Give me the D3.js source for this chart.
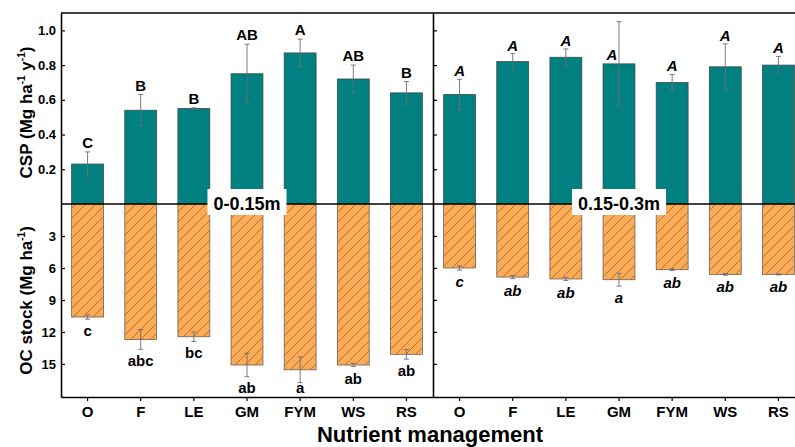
<!DOCTYPE html>
<html>
<head>
<meta charset="utf-8">
<script src="https://cdn.jsdelivr.net/npm/d3@7"></script>
<style>
  body { margin: 0; background: #fff; }
  text { font-family: 'Liberation Sans', Arial, sans-serif; font-weight: bold; fill: #000; }
</style>
</head>
<body>
<svg id="chart" width="795" height="447"></svg>
<script>
const categories = ['O', 'F', 'LE', 'GM', 'FYM', 'WS', 'RS'];
const depths = ['0-0.15m', '0.15-0.3m'];

// carbon sequestration potential, Mg ha-1 y-1
const cspShallow = [0.23, 0.54, 0.55, 0.75, 0.87, 0.72, 0.64];
const cspShallowErr = [0.07, 0.09, 0.004, 0.17, 0.08, 0.08, 0.065];
const cspDeep = [0.63, 0.82, 0.845, 0.807, 0.70, 0.79, 0.80];
const cspDeepErr = [0.088, 0.046, 0.048, 0.243, 0.046, 0.132, 0.05];
const cspShallowLetters = ['C', 'B', 'B', 'AB', 'A', 'AB', 'B'];
const cspDeepLetters = ['A', 'A', 'A', 'A', 'A', 'A', 'A'];

// organic carbon stock, Mg ha-1
const ocShallow = [10.6, 12.7, 12.45, 15.1, 15.55, 15.1, 14.1];
const ocShallowErr = [0.2, 0.93, 0.44, 1.1, 1.2, 0.15, 0.45];
const ocDeep = [6.0, 6.85, 7.03, 7.1, 6.16, 6.6, 6.6];
const ocDeepErr = [0.2, 0.15, 0.15, 0.6, 0.08, 0.08, 0.05];
const ocShallowLetters = ['c', 'abc', 'bc', 'ab', 'a', 'ab', 'ab'];
const ocDeepLetters = ['c', 'ab', 'ab', 'a', 'ab', 'ab', 'ab'];

const cspTicks = [0.2, 0.4, 0.6, 0.8, 1.0];
const ocTicks = [3, 6, 9, 12, 15];

const panels = [
  { depth: depths[0], csp: cspShallow, cspErr: cspShallowErr, cspLetters: cspShallowLetters,
    oc: ocShallow, ocErr: ocShallowErr, ocLetters: ocShallowLetters, italic: false },
  { depth: depths[1], csp: cspDeep, cspErr: cspDeepErr, cspLetters: cspDeepLetters,
    oc: ocDeep, ocErr: ocDeepErr, ocLetters: ocDeepLetters, italic: true },
];

const plotLeft = 61;
const panelWidth = 372;
const plotTop = 13;
const zeroY = 204;
const plotBottom = 397;
const teal = '#008080';
const orange = '#FDAA55';

const svg = d3.select('#chart');

const yCsp = d3.scaleLinear().domain([0, 1.1]).range([zeroY, plotTop]);
const yOc = d3.scaleLinear().domain([0, 18.1]).range([zeroY, plotBottom]);

// hatch for the OC stock bars
const pattern = svg.append('defs')
  .append('pattern')
  .attr('id', 'hatch')
  .attr('patternUnits', 'userSpaceOnUse')
  .attr('width', 10)
  .attr('height', 10);
pattern.append('rect')
  .attr('width', 10)
  .attr('height', 10)
  .attr('fill', orange);
pattern.append('path')
  .attr('d', 'M-1,1 l2,-2 M0,10 l10,-10 M9,11 l2,-2')
  .attr('stroke', '#6b5434')
  .attr('stroke-width', 0.6);

function errorBar(g, x, y1, y2) {
  g.append('line')
    .attr('x1', x).attr('x2', x)
    .attr('y1', y1).attr('y2', y2);
  g.append('line')
    .attr('x1', x - 2.5).attr('x2', x + 2.5)
    .attr('y1', y1).attr('y2', y1);
  g.append('line')
    .attr('x1', x - 2.5).attr('x2', x + 2.5)
    .attr('y1', y2).attr('y2', y2);
}

panels.forEach((p, pi) => {
  const x0 = plotLeft + pi * panelWidth;
  const x = d3.scaleBand()
    .domain(categories)
    .range([x0, x0 + panelWidth])
    .paddingInner(0.4)
    .paddingOuter(0.2);
  const g = svg.append('g');

  g.selectAll('.csp')
    .data(categories)
    .enter()
    .append('rect')
    .attr('class', 'csp')
    .attr('x', d => x(d))
    .attr('y', (d, i) => yCsp(p.csp[i]))
    .attr('width', x.bandwidth())
    .attr('height', (d, i) => zeroY - yCsp(p.csp[i]))
    .attr('fill', teal)
    .attr('stroke', '#3d4a4a')
    .attr('stroke-width', 0.8);

  g.selectAll('.oc')
    .data(categories)
    .enter()
    .append('rect')
    .attr('class', 'oc')
    .attr('x', d => x(d))
    .attr('y', zeroY)
    .attr('width', x.bandwidth())
    .attr('height', (d, i) => yOc(p.oc[i]) - zeroY)
    .attr('fill', 'url(#hatch)')
    .attr('stroke', '#6b6055')
    .attr('stroke-width', 0.8);

  const eb = g.append('g')
    .attr('stroke', '#6e6e6e')
    .attr('stroke-width', 0.9);
  categories.forEach((c, i) => {
    const cx = x(c) + x.bandwidth() / 2;
    errorBar(eb, cx, yCsp(p.csp[i] - p.cspErr[i]), yCsp(p.csp[i] + p.cspErr[i]));
    errorBar(eb, cx, yOc(p.oc[i] - p.ocErr[i]), yOc(p.oc[i] + p.ocErr[i]));
  });

  // significance letters
  g.selectAll('.cspLetter')
    .data(categories)
    .enter()
    .append('text')
    .attr('class', 'cspLetter')
    .attr('text-anchor', 'middle')
    .style('font-size', '15px')
    .style('font-style', p.italic ? 'italic' : 'normal')
    .attr('x', (d, i) => {
      const cx = x(d) + x.bandwidth() / 2;
      return yCsp(p.csp[i] + p.cspErr[i]) - 15 < plotTop ? cx - 7 : cx;
    })
    .attr('y', (d, i) => {
      const yTop = yCsp(p.csp[i] + p.cspErr[i]) - (p.italic ? 3 : 4);
      if (yTop - 11 < plotTop) return yCsp(p.csp[i]) - 4;
      return yTop;
    })
    .text((d, i) => p.cspLetters[i]);

  g.selectAll('.ocLetter')
    .data(categories)
    .enter()
    .append('text')
    .attr('class', 'ocLetter')
    .attr('text-anchor', 'middle')
    .style('font-size', '15px')
    .style('font-style', p.italic ? 'italic' : 'normal')
    .attr('x', d => x(d) + x.bandwidth() / 2)
    .attr('y', (d, i) => Math.min(yOc(p.oc[i] + p.ocErr[i]) + 17, plotBottom - 4))
    .text((d, i) => p.ocLetters[i]);

  // axes
  const bottomAxis = g.append('g')
    .attr('transform', `translate(0,${plotBottom})`)
    .call(d3.axisBottom(x).tickSizeInner(4).tickSizeOuter(0).tickPadding(5));
  bottomAxis.selectAll('text').style('font-size', '15px');

  let cspAxis;
  let ocAxis;
  if (pi === 0) {
    cspAxis = d3.axisLeft(yCsp).tickValues(cspTicks).tickSizeInner(-4).tickSizeOuter(0)
      .tickPadding(5).tickFormat(d3.format('.1f'));
    ocAxis = d3.axisLeft(yOc).tickValues(ocTicks).tickSizeInner(-4).tickSizeOuter(0)
      .tickPadding(5);
  } else {
    cspAxis = d3.axisRight(yCsp).tickValues(cspTicks).tickSizeInner(4).tickSizeOuter(0)
      .tickFormat('');
    ocAxis = d3.axisRight(yOc).tickValues(ocTicks).tickSizeInner(4).tickSizeOuter(0)
      .tickFormat('');
  }
  g.append('g')
    .attr('transform', `translate(${x0},0)`)
    .call(cspAxis)
    .selectAll('text').style('font-size', '13px');
  g.append('g')
    .attr('transform', `translate(${x0},0)`)
    .call(ocAxis)
    .selectAll('text').style('font-size', '13px');

  g.selectAll('.domain, .tick line')
    .attr('stroke', '#000')
    .attr('stroke-width', 1.6);
  g.selectAll('.tick line').attr('stroke-width', 1.2);
});

// frame top and zero line
svg.append('line')
  .attr('x1', plotLeft).attr('x2', plotLeft + 2 * panelWidth)
  .attr('y1', plotTop).attr('y2', plotTop)
  .attr('stroke', '#000')
  .attr('stroke-width', 1.6);
svg.append('line')
  .attr('x1', plotLeft).attr('x2', plotLeft + 2 * panelWidth)
  .attr('y1', zeroY).attr('y2', zeroY)
  .attr('stroke', '#000')
  .attr('stroke-width', 1.6);

// depth labels in white boxes
panels.forEach((p, pi) => {
  const cx = plotLeft + pi * panelWidth + panelWidth / 2;
  const label = svg.append('g');
  const t = label.append('text')
    .attr('x', cx)
    .attr('y', zeroY + 6)
    .attr('text-anchor', 'middle')
    .style('font-size', '18px')
    .text(p.depth);
  const w = t.node().getComputedTextLength();
  label.insert('rect', 'text')
    .attr('x', cx - w / 2 - 6)
    .attr('y', zeroY - 15)
    .attr('width', w + 12)
    .attr('height', 26)
    .attr('fill', '#fff');
});

// axis titles
const cspTitle = svg.append('text')
  .attr('transform', `translate(32,${(plotTop + zeroY) / 2 + 4}) rotate(-90)`)
  .attr('text-anchor', 'middle')
  .style('font-size', '17px');
cspTitle.append('tspan').text('CSP (Mg ha');
cspTitle.append('tspan').attr('dy', -7).style('font-size', '10px').text('-1');
cspTitle.append('tspan').attr('dy', 7).text(' y');
cspTitle.append('tspan').attr('dy', -7).style('font-size', '10px').text('-1');
cspTitle.append('tspan').attr('dy', 7).text(')');

const ocTitle = svg.append('text')
  .attr('transform', `translate(32,${(zeroY + plotBottom) / 2}) rotate(-90)`)
  .attr('text-anchor', 'middle')
  .style('font-size', '17px');
ocTitle.append('tspan').text('OC stock (Mg ha');
ocTitle.append('tspan').attr('dy', -7).style('font-size', '10px').text('-1');
ocTitle.append('tspan').attr('dy', 7).text(')');

svg.append('text')
  .attr('x', 430)
  .attr('y', 442)
  .attr('text-anchor', 'middle')
  .style('font-size', '22px')
  .text('Nutrient management');
</script>
</body>
</html>
